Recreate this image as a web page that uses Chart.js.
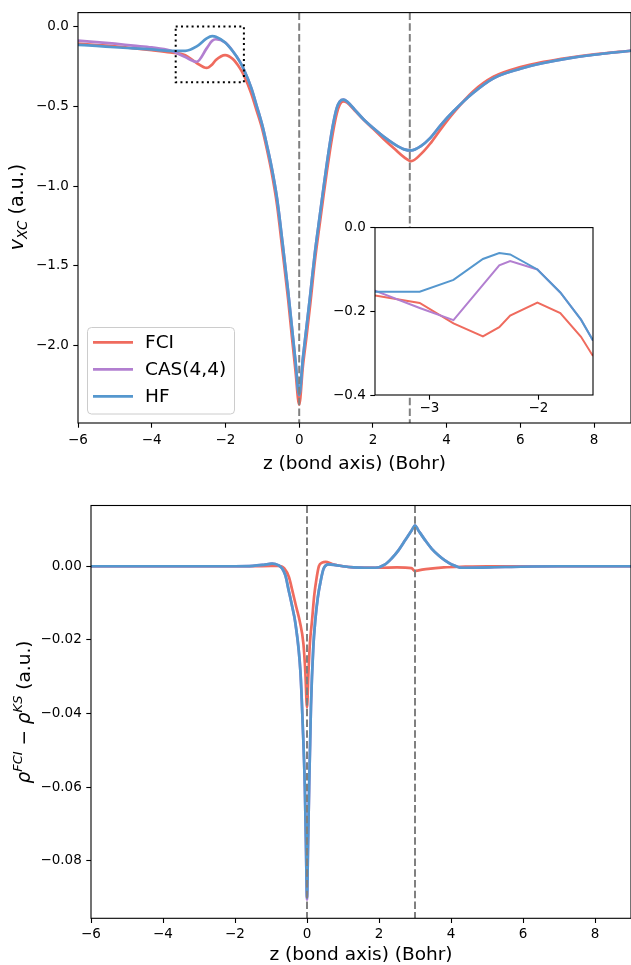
<!DOCTYPE html>
<html>
<head>
<meta charset="utf-8">
<script src="https://cdn.jsdelivr.net/npm/chart.js@4"></script>
<style>
  html, body { margin: 0; padding: 0; background: #fff; }
  body { width: 631px; height: 965px; position: relative; overflow: hidden; }
  .box { position: absolute; }
</style>
</head>
<body>
<div class="box" style="left:0;top:0;width:631px;height:480px"><canvas id="vxc"></canvas></div>
<div class="box" style="left:330px;top:215px;width:280px;height:210px;z-index:2"><canvas id="inset"></canvas></div>
<div class="box" style="left:0;top:480px;width:631px;height:485px"><canvas id="rho"></canvas></div>
<script>
// ---- data ----
const labels = ["FCI", "CAS(4,4)", "HF"];
const colors = ["#ef6b5e", "#b27fd0", "#5597ce"];

// top panel: v_XC along the bond axis
const zTop = [-6, -5.5, -5, -4.5, -4, -3.5, -3.09, -2.78, -2.51, -2.36, -2.26, -2.01, -1.80, -1.61, -1.50,
  -1.3, -1.15, -1.0, -0.88, -0.75, -0.6, -0.45, -0.3, -0.2, -0.1, 0, 0.1, 0.2, 0.3, 0.43, 0.55, 0.66,
  0.75, 0.84, 0.93, 1.02, 1.1, 1.2, 1.3, 1.5, 1.75, 2.0, 2.29, 2.6, 2.85, 3.04, 3.3, 3.55, 3.85, 4.19,
  4.7, 5.27, 6.0, 6.63, 7.3, 8.0, 9.0];
const vxcFci = [-0.108, -0.116, -0.124, -0.136, -0.148, -0.162, -0.180, -0.229, -0.260, -0.238, -0.210,
  -0.179, -0.204, -0.261, -0.307, -0.420, -0.530, -0.645, -0.765, -0.910, -1.120, -1.410, -1.710,
  -1.940, -2.160, -2.370, -2.130, -1.940, -1.740, -1.460, -1.250, -1.060, -0.910, -0.770, -0.645,
  -0.545, -0.490, -0.470, -0.478, -0.525, -0.585, -0.640, -0.705, -0.770, -0.820, -0.844, -0.800,
  -0.735, -0.640, -0.540, -0.410, -0.315, -0.255, -0.222, -0.196, -0.175, -0.152];
const vxcCas = [-0.088, -0.098, -0.108, -0.120, -0.131, -0.151, -0.192, -0.221, -0.137, -0.090, -0.080,
  -0.100, -0.155, -0.220, -0.270, -0.385, -0.500, -0.620, -0.740, -0.880, -1.080, -1.360, -1.660,
  -1.880, -2.100, -2.310, -2.080, -1.880, -1.680, -1.410, -1.200, -1.010, -0.860, -0.720, -0.600,
  -0.510, -0.470, -0.458, -0.470, -0.520, -0.583, -0.635, -0.690, -0.740, -0.770, -0.777, -0.750,
  -0.700, -0.615, -0.530, -0.420, -0.325, -0.265, -0.229, -0.200, -0.177, -0.152];
const vxcHf = [-0.115, -0.122, -0.130, -0.137, -0.144, -0.153, -0.153, -0.125, -0.075, -0.061, -0.064,
  -0.100, -0.155, -0.220, -0.270, -0.385, -0.500, -0.620, -0.740, -0.880, -1.080, -1.360, -1.660,
  -1.880, -2.100, -2.310, -2.080, -1.880, -1.680, -1.410, -1.200, -1.010, -0.860, -0.720, -0.600,
  -0.510, -0.470, -0.458, -0.470, -0.520, -0.583, -0.635, -0.690, -0.740, -0.770, -0.777, -0.750,
  -0.700, -0.615, -0.530, -0.420, -0.325, -0.265, -0.229, -0.200, -0.177, -0.152];

// bottom panel: density difference
const zRhoFci = [-6, -4, -2, -1.5, -1.0, -0.8, -0.63, -0.5, -0.41, -0.3, -0.2, -0.1, -0.045, 0, 0.04,
  0.08, 0.14, 0.2, 0.27, 0.33, 0.42, 0.52, 0.7, 1.0, 1.3, 2.0, 2.5, 2.9, 3.0, 3.1, 3.3, 3.8, 4.4, 5, 7, 9];
const rhoFci = [0, 0, 0, 0, 0.0001, 0.0001, -0.0006, -0.003, -0.0065, -0.011, -0.015, -0.021, -0.029,
  -0.0383, -0.029, -0.021, -0.0147, -0.008, -0.003, 0, 0.001, 0.0012, 0.0006, 0, -0.0003, -0.0004,
  -0.0003, -0.0005, -0.0013, -0.0011, -0.0008, -0.0003, -0.0001, 0, 0, 0];
const zRhoHf = [-6, -4, -2, -1.5, -1.2, -0.97, -0.8, -0.69, -0.6, -0.51, -0.41, -0.32, -0.18, -0.12,
  -0.06, -0.03, 0, 0.03, 0.06, 0.11, 0.175, 0.23, 0.3, 0.38, 0.46, 0.6, 0.8, 1.0, 1.3, 1.6, 1.9, 2.17,
  2.35, 2.54, 2.73, 2.91, 3.0, 3.09, 3.28, 3.46, 3.65, 3.83, 4.02, 4.29, 5.5, 7, 9];
const rhoCas = [0, 0, 0, 0.0001, 0.0004, 0.0007, 0.0003, -0.0006, -0.0025, -0.0065, -0.011, -0.0156,
  -0.029, -0.0427, -0.060, -0.075, -0.0905, -0.075, -0.060, -0.038, -0.022, -0.0147, -0.0085, -0.004,
  -0.0007, 0.0005, 0.0003, 0, -0.0003, -0.0004, -0.0004, 0.0005, 0.0021, 0.0043, 0.0071, 0.0098,
  0.0111, 0.0098, 0.0071, 0.0048, 0.003, 0.0016, 0.0005, -0.0004, -0.0002, 0, 0];
const rhoHf = [0, 0, 0, 0.0001, 0.0004, 0.0007, 0.0003, -0.0006, -0.0025, -0.0065, -0.011, -0.0156,
  -0.029, -0.0427, -0.060, -0.075, -0.090, -0.075, -0.060, -0.038, -0.022, -0.0147, -0.0085, -0.004,
  -0.0007, 0.0005, 0.0003, 0, -0.0003, -0.0004, -0.0004, 0.0005, 0.0021, 0.0043, 0.0071, 0.0098,
  0.0111, 0.0098, 0.0071, 0.0048, 0.003, 0.0016, 0.0005, -0.0004, -0.0002, 0, 0];

const zTicks = [-6, -4, -2, 0, 2, 4, 6, 8];
const vxcTicks = [0, -0.5, -1.0, -1.5, -2.0];
const insetZTicks = [-3, -2];
const insetVTicks = [0, -0.2, -0.4];
const rhoTicks = [0, -0.02, -0.04, -0.06, -0.08];
const nuclei = [0, 3];
const zoomBox = [-3.35, -1.5, -0.35, 0.0];   // x0, x1, y0, y1

// ---- helpers ----
const FONT = "DejaVu Sans";
const fmt = d => v => (v < 0 ? "\u2212" : "") + Math.abs(v).toFixed(d);
const pts = (xs, ys) => xs.map((x, i) => ({x, y: ys[i]}));

function richText(ctx, parts, x, y, size) {
  // draws rotated (-90deg) label centred at x,y; baseline at x
  ctx.save();
  ctx.translate(x, y);
  ctx.rotate(-Math.PI / 2);
  ctx.textBaseline = "alphabetic";
  ctx.fillStyle = "#000";
  let w = 0;
  parts.forEach(p => {
    ctx.font = `${p.it ? "italic " : ""}${p.s || size}px "${FONT}"`;
    p.w = ctx.measureText(p.t).width;
    w += p.w;
  });
  let cx = -w / 2;
  parts.forEach(p => {
    ctx.font = `${p.it ? "italic " : ""}${p.s || size}px "${FONT}"`;
    ctx.fillText(p.t, cx, p.dy || 0);
    cx += p.w;
  });
  ctx.restore();
}

const deco = {
  id: "deco",
  beforeDraw(chart, args, o) {
    if (!o.fill) return;
    const {ctx, chartArea: a} = chart;
    ctx.save();
    ctx.fillStyle = o.fill;
    ctx.fillRect(a.left, a.top, a.width, a.height);
    ctx.restore();
  },
  afterDatasetsDraw(chart, args, o) {
    const {ctx, chartArea: a, scales: {x, y}} = chart;
    ctx.save();
    ctx.beginPath();
    ctx.rect(a.left, a.top, a.width, a.height);
    ctx.clip();
    (o.vlines || []).forEach(v => {
      const px = x.getPixelForValue(v);
      ctx.strokeStyle = "#808080";
      ctx.lineWidth = 2;
      ctx.setLineDash([7.5, 3.2]);
      ctx.beginPath();
      ctx.moveTo(px, a.top);
      ctx.lineTo(px, a.bottom);
      ctx.stroke();
    });
    if (o.box) {
      const [x0, x1, y0, y1] = o.box;
      ctx.strokeStyle = "#000";
      ctx.lineWidth = 2;
      ctx.setLineDash([2, 3.3]);
      const l = x.getPixelForValue(x0), r = x.getPixelForValue(x1);
      const t = y.getPixelForValue(y1), b = y.getPixelForValue(y0);
      ctx.strokeRect(l, t, r - l, b - t);
    }
    ctx.restore();
    ctx.save();
    ctx.strokeStyle = "#000";
    ctx.lineWidth = 1.1;
    ctx.strokeRect(a.left, a.top, a.width, a.height);
    ctx.restore();
  },
  afterDraw(chart, args, o) {
    const {ctx} = chart;
    if (o.legend) {
      const L = o.legend;
      ctx.save();
      ctx.fillStyle = "rgba(255,255,255,0.8)";
      ctx.strokeStyle = "#cccccc";
      ctx.lineWidth = 1;
      ctx.beginPath();
      ctx.roundRect(L.x, L.y, L.w, L.h, 4);
      ctx.fill();
      ctx.stroke();
      ctx.font = `${L.size}px "${FONT}"`;
      ctx.textBaseline = "middle";
      chart.data.datasets.forEach((ds, i) => {
        const yy = L.rows[i];
        ctx.strokeStyle = ds.borderColor;
        ctx.lineWidth = 2.7;
        ctx.beginPath();
        ctx.moveTo(L.x0, yy);
        ctx.lineTo(L.x1, yy);
        ctx.stroke();
        ctx.fillStyle = "#000";
        ctx.fillText(ds.label, L.tx, yy + 1);
      });
      ctx.restore();
    }
    if (o.ylabel) richText(ctx, o.ylabel.parts, o.ylabel.x, o.ylabel.y, o.ylabel.size);
  }
};

function lineSets(xsList, ysList, width, smooth) {
  return ysList.map((ys, i) => ({
    label: labels[i],
    data: pts(xsList[i], ys),
    borderColor: colors[i],
    borderWidth: width,
    pointRadius: 0,
    fill: false,
    order: 2 - i,
    tension: smooth ? 0.4 : 0,
    cubicInterpolationMode: smooth ? "monotone" : "default"
  }));
}

function axis(min, max, ticks, dec, size, opts) {
  return {
    type: "linear", min, max,
    afterBuildTicks: s => { s.ticks = ticks.map(v => ({value: v})); },
    afterFit: s => { if (opts.w != null) s.width = opts.w; if (opts.h != null) s.height = opts.h; },
    border: {display: false},
    grid: {display: true, drawOnChartArea: false, drawTicks: true, tickLength: opts.tl || 4.7,
           tickWidth: 1.1, tickColor: "#000", color: "#000"},
    ticks: {autoSkip: false, maxRotation: 0, color: "#000", padding: opts.pad,
            font: {family: FONT, size}, callback: fmt(dec)},
    title: opts.title ? {display: true, text: opts.title, color: "#000",
            font: {family: FONT, size: 18.5, lineHeight: 1}, padding: {top: 0, bottom: opts.tpad}} : {display: false}
  };
}

const base = (padding, scales, deco) => ({
  responsive: true, maintainAspectRatio: false, animation: false, devicePixelRatio: 1,
  layout: {padding, autoPadding: false},
  scales,
  plugins: {legend: {display: false}, tooltip: {enabled: false}, deco}
});

const topX = zTop;
new Chart(document.getElementById("vxc"), {
  type: "line",
  data: {datasets: lineSets([topX, topX, topX], [vxcFci, vxcCas, vxcHf], 2.7, true)},
  options: base({top: 11, right: 0, bottom: 0, left: 0}, {
    x: axis(-6, 9, zTicks, 0, 13.5, {h: 57, pad: 4.5, title: "z (bond axis) (Bohr)", tpad: 6.75}),
    y: axis(-2.485, 0.087, vxcTicks, 1, 13.5, {w: 78, pad: 4.5})
  }, {
    vlines: nuclei, box: zoomBox,
    legend: {x: 87.5, y: 327.5, w: 147, h: 86.5, x0: 93, x1: 133, tx: 145, size: 18.5, rows: [342.3, 369.3, 396.3]},
    ylabel: {x: 22.5, y: 207, size: 19, parts: [{t: "v", it: true}, {t: "XC", it: true, s: 13.5, dy: 4}, {t: " (a.u.)"}]}
  }),
  plugins: [deco]
});

new Chart(document.getElementById("inset"), {
  type: "line",
  data: {datasets: lineSets([topX, topX, topX], [vxcFci, vxcCas, vxcHf], 2, false)},
  options: base({top: 10, right: 17, bottom: 0, left: 0}, {
    x: axis(-3.5, -1.5, insetZTicks, 0, 13.5, {h: 30, pad: 0.5}),
    y: axis(-0.4, 0.0, insetVTicks, 1, 13.5, {w: 45, pad: 4.5})
  }, {fill: "#fff"}),
  plugins: [deco]
});

new Chart(document.getElementById("rho"), {
  type: "line",
  data: {datasets: lineSets([zRhoFci, zRhoHf, zRhoHf], [rhoFci, rhoCas, rhoHf], 2.7, true)},
  options: base({top: 25.5, right: 0, bottom: 0, left: 0}, {
    x: axis(-6, 9, zTicks, 0, 13.5, {h: 46.7, pad: 3.5, title: "z (bond axis) (Bohr)", tpad: 0.75}),
    y: axis(-0.0956, 0.0165, rhoTicks, 2, 13.5, {w: 91, pad: 4.5})
  }, {
    vlines: nuclei,
    ylabel: {x: 30, y: 232, size: 18.5, parts: [{t: "\u03c1", it: true}, {t: "FCI", it: true, s: 13, dy: -8},
      {t: " \u2212 "}, {t: "\u03c1", it: true}, {t: "KS", it: true, s: 13, dy: -8}, {t: " (a.u.)"}]}
  }),
  plugins: [deco]
});
</script>
</body>
</html>
